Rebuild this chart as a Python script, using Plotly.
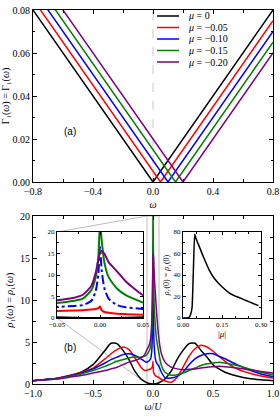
import plotly.graph_objects as go

# ---------------- panel (a): hybridisation function ----------------
mu_labels = ["<i>μ</i> = 0", "<i>μ</i> = −0.05", "<i>μ</i> = −0.10",
             "<i>μ</i> = −0.15", "<i>μ</i> = −0.20"]
colors = ["#000000", "#ff0000", "#0000ff", "#008000", "#800080"]
gamma_omega_edges = [-0.8, 0.8]
gamma_dip_omega = [0.0, 0.05, 0.10, 0.15, 0.20]
gamma_at_left = [0.080, 0.085, 0.090, 0.095, 0.100]
gamma_at_right = [0.080, 0.075, 0.070, 0.065, 0.060]

# ---------------- panel (b): spectral function ----------------
omega = [-1.0, -0.9, -0.8, -0.7, -0.6, -0.5, -0.4, -0.35, -0.3, -0.25, -0.2,
         -0.15, -0.1, -0.07, -0.05, -0.03, -0.02, -0.01, -0.005, -0.002, 0.0,
         0.002, 0.005, 0.01, 0.02, 0.03, 0.05, 0.07, 0.1, 0.15, 0.2, 0.25,
         0.3, 0.35, 0.4, 0.45, 0.5, 0.55, 0.6, 0.7, 0.8, 0.9, 1.0]
rho_mu0 = [0.4, 0.5, 0.65, 0.95, 1.4, 2.3, 4.0, 4.85, 4.8, 4.0, 2.9,
           1.5, 0.6, 0.3, 0.15, 0.05, 0.02, 0.0, 0.0, 0.0, 0.0,
           0.0, 0.0, 0.0, 0.02, 0.05, 0.15, 0.3, 0.6, 1.5, 2.9, 4.0,
           4.8, 4.85, 4.0, 3.2, 2.3, 1.8, 1.4, 0.95, 0.65, 0.5, 0.4]
rho_mu005 = [0.4, 0.55, 0.7, 1.0, 1.4, 1.9, 3.0, 3.6, 4.1, 4.4, 4.1,
             3.1, 2.0, 1.6, 1.65, 1.75, 1.8, 1.95, 2.1, 2.3, 2.7,
             1.8, 1.4, 1.2, 1.0, 0.9, 0.75, 0.55, 0.35, 0.2, 0.8, 2.0,
             3.3, 4.2, 4.6, 4.4, 3.9, 3.3, 2.7, 1.8, 1.3, 0.95, 0.7]
rho_mu010 = [0.4, 0.55, 0.7, 0.95, 1.3, 1.8, 2.5, 2.9, 3.2, 3.5, 3.6,
             3.4, 3.0, 2.7, 2.6, 2.8, 3.0, 4.0, 6.3, 10.0, 16.5,
             11.0, 7.0, 4.5, 3.0, 2.5, 2.1, 1.4, 0.75, 0.7, 0.9, 1.4,
             2.3, 3.0, 3.4, 3.6, 3.6, 3.3, 3.0, 2.3, 1.7, 1.2, 0.9]
rho_mu015 = [0.4, 0.5, 0.65, 0.9, 1.2, 1.6, 2.1, 2.4, 2.7, 2.9, 3.1,
             3.2, 3.2, 3.3, 3.5, 4.0, 4.5, 6.5, 9.5, 14.0, 22.0,
             18.0, 13.0, 9.5, 6.8, 5.3, 3.6, 2.2, 1.4, 1.05, 1.1, 1.3,
             1.6, 1.9, 2.2, 2.4, 2.5, 2.6, 2.5, 2.2, 1.8, 1.4, 1.1]
rho_mu020 = [0.4, 0.5, 0.6, 0.8, 1.0, 1.3, 1.6, 1.8, 2.0, 2.3, 2.6,
             2.8, 3.1, 3.5, 4.1, 4.7, 5.4, 7.5, 10.5, 13.5, 15.2,
             15.6, 15.0, 13.0, 10.8, 8.5, 5.3, 3.6, 2.6, 2.0, 1.8, 1.7,
             1.75, 1.8, 1.9, 2.0, 2.05, 2.1, 2.05, 1.9, 1.7, 1.5, 1.3]
rho_series = [rho_mu0, rho_mu005, rho_mu010, rho_mu015, rho_mu020]
inset_dash = ["solid", "solid", "dashdot", "solid", "solid"]

# ---------------- inset: rho(0) versus |mu| ----------------
abs_mu = [0.0, 0.01, 0.02, 0.025, 0.03, 0.035, 0.04, 0.045, 0.05, 0.06,
          0.07, 0.08, 0.10, 0.12, 0.15, 0.18, 0.21, 0.24, 0.27, 0.29]
rho_zero = [0.0, 0.0, 0.2, 1.0, 4.0, 10.0, 45.0, 78.0, 74.0, 68.0,
            62.0, 56.0, 45.0, 37.0, 29.0, 23.0, 19.5, 16.5, 13.5, 11.5]

# ---------------- geometry ----------------
W, H = 280, 420
ML, MR, MT, MB = 33, 7, 10, 36
PW, PH = W - ML - MR, H - MT - MB


def px(x):
    return (x - ML) / PW


def py(y):
    return (H - MB - y) / PH


SERIF = "Liberation Serif"
SANS = "Liberation Sans"

fig = go.Figure()

# panel (a)
for i in range(5):
    xs = [gamma_omega_edges[0], gamma_dip_omega[i], gamma_omega_edges[1]]
    ys = [gamma_at_left[i], 0.0, gamma_at_right[i]]
    fig.add_trace(go.Scatter(x=xs, y=ys, mode="lines", name=mu_labels[i],
                             line=dict(color=colors[i], width=1.5),
                             xaxis="x", yaxis="y", showlegend=False))

# panel (b) main
for i in range(5):
    fig.add_trace(go.Scatter(x=omega, y=rho_series[i], mode="lines",
                             line=dict(color=colors[i], width=1.5,
                                       shape="spline", smoothing=0.6),
                             xaxis="x2", yaxis="y2", showlegend=False))
# panel (b) zoom inset
for i in range(5):
    fig.add_trace(go.Scatter(x=omega, y=rho_series[i], mode="lines",
                             line=dict(color=colors[i], width=2, dash=inset_dash[i],
                                       shape="spline", smoothing=0.6),
                             xaxis="x3", yaxis="y3", showlegend=False))
# rho(0) inset
fig.add_trace(go.Scatter(x=abs_mu, y=rho_zero, mode="lines",
                         line=dict(color="black", width=1.5,
                                   shape="spline", smoothing=0.4),
                         xaxis="x4", yaxis="y4", showlegend=False))

axis_common = dict(showline=True, linecolor="black", linewidth=1, mirror="ticks",
                   ticks="inside", ticklen=4, tickcolor="black", showgrid=False,
                   zeroline=False, automargin=False)

dom_a = [py(182), py(10)]
dom_b = [py(384), py(216)]
in1_x = [px(57), px(143)]
in2_x = [px(183), px(261)]
in_y = [py(318), py(232)]

fig.update_layout(
    width=W, height=H, margin=dict(l=ML, r=MR, t=MT, b=MB),
    paper_bgcolor="white", plot_bgcolor="rgba(0,0,0,0)",
    font=dict(family=SERIF, size=10, color="black"),
    xaxis=dict(axis_common, domain=[0, 1], anchor="y", range=[-0.8, 0.8],
               tickvals=[-0.8, -0.4, 0.0, 0.4, 0.8], tickformat=".1f",
               minor=dict(dtick=0.2, ticks="inside", ticklen=3, tickcolor="black"),
               tickfont=dict(size=10),
               title=dict(text="<i>ω</i>", font=dict(size=10), standoff=4)),
    yaxis=dict(axis_common, domain=dom_a, anchor="x", range=[0, 0.08],
               dtick=0.02, tickformat=".2f", tickfont=dict(size=10),
               minor=dict(dtick=0.01, ticks="inside", ticklen=2, tickcolor="black"),
               title=dict(text="Γ<sub>↑</sub>(<i>ω</i>) = Γ<sub>↓</sub>(<i>ω</i>)",
                          font=dict(size=10), standoff=4)),
    xaxis2=dict(axis_common, domain=[0, 1], anchor="y2", range=[-1, 1],
                dtick=0.5, tickformat=".1f", tickfont=dict(size=10),
                minor=dict(dtick=0.25, ticks="inside", ticklen=3, tickcolor="black"),
                title=dict(text="<i>ω</i>/<i>U</i>", font=dict(size=10), standoff=4)),
    yaxis2=dict(axis_common, domain=dom_b, anchor="x2", range=[0, 20],
                dtick=5, tickfont=dict(size=10),
                minor=dict(dtick=2.5, ticks="inside", ticklen=3, tickcolor="black"),
                title=dict(text="<i>ρ</i><sub>↑</sub>(<i>ω</i>) = <i>ρ</i><sub>↓</sub>(<i>ω</i>)",
                           font=dict(size=10), standoff=4)),
    xaxis3=dict(axis_common, domain=in1_x, anchor="y3", range=[-0.05, 0.05],
                tickvals=[-0.05, 0.0, 0.05], tickformat=".2f", ticklen=3,
                tickfont=dict(size=7),
                minor=dict(dtick=0.025, ticks="inside", ticklen=2, tickcolor="black")),
    yaxis3=dict(axis_common, domain=in_y, anchor="x3", range=[0, 20],
                dtick=5, ticklen=3, tickfont=dict(size=7),
                minor=dict(dtick=2.5, ticks="inside", ticklen=2, tickcolor="black")),
    xaxis4=dict(axis_common, domain=in2_x, anchor="y4", range=[0, 0.3],
                tickvals=[0.0, 0.15, 0.30], tickformat=".2f", ticklen=3,
                tickfont=dict(size=7),
                minor=dict(dtick=0.05, ticks="inside", ticklen=2, tickcolor="black"),
                title=dict(text="|<i>μ</i>|", font=dict(size=9), standoff=2)),
    yaxis4=dict(axis_common, domain=in_y, anchor="x4", range=[0, 80],
                dtick=20, ticklen=3, tickfont=dict(size=7),
                minor=dict(dtick=10, ticks="inside", ticklen=2, tickcolor="black"),
                title=dict(text="<i>ρ</i><sub>↑</sub>(0) = <i>ρ</i><sub>↓</sub>(0)",
                           font=dict(size=8), standoff=2)),
)

shapes = []
# dashed line at omega = 0 in panel (a)
shapes.append(dict(type="line", xref="x", yref="y domain", x0=0, x1=0, y0=0, y1=1,
                   line=dict(color="#c8c8c8", width=1, dash="dash"), layer="below"))
# zoom rectangle in panel (b)
zx0, zx1 = -0.05, 0.05
shapes.append(dict(type="rect", xref="x2", yref="y2", x0=zx0, x1=zx1, y0=0, y1=20,
                   line=dict(color="#bdbdbd", width=1), layer="below"))
# connectors from inset corners to zoom rectangle corners
rect_left_paper = (zx0 + 1) / 2
shapes.append(dict(type="line", xref="paper", yref="paper",
                   x0=in1_x[0], y0=in_y[1], x1=rect_left_paper, y1=dom_b[1],
                   line=dict(color="#bdbdbd", width=1), layer="below"))
shapes.append(dict(type="line", xref="paper", yref="paper",
                   x0=in1_x[0], y0=in_y[0], x1=rect_left_paper, y1=dom_b[0],
                   line=dict(color="#bdbdbd", width=1), layer="below"))
# white backgrounds of insets
for xd in (in1_x, in2_x):
    shapes.append(dict(type="rect", xref="paper", yref="paper",
                       x0=xd[0], x1=xd[1], y0=in_y[0], y1=in_y[1],
                       line=dict(width=0), fillcolor="white", layer="below"))

annotations = []
# manual legend for panel (a)
for i in range(5):
    yy = py(16 + 11.5 * i)
    shapes.append(dict(type="line", xref="paper", yref="paper",
                       x0=px(157), x1=px(179), y0=yy, y1=yy,
                       line=dict(color=colors[i], width=1.5)))
    annotations.append(dict(text=mu_labels[i], xref="paper", yref="paper",
                            x=px(186), y=yy, xanchor="left", yanchor="middle",
                            showarrow=False, font=dict(family=SERIF, size=10)))
annotations.append(dict(text="(a)", xref="paper", yref="paper", x=px(62), y=py(124),
                        showarrow=False, font=dict(family=SANS, size=10)))
annotations.append(dict(text="(b)", xref="paper", yref="paper", x=px(62), y=py(355),
                        showarrow=False, font=dict(family=SANS, size=10)))

fig.update_layout(shapes=shapes, annotations=annotations)
fig.write_html("out.html",
               config={"displayModeBar": False},
               post_script="document.body.style.margin='0';"
                           "document.body.style.overflow='hidden';")
